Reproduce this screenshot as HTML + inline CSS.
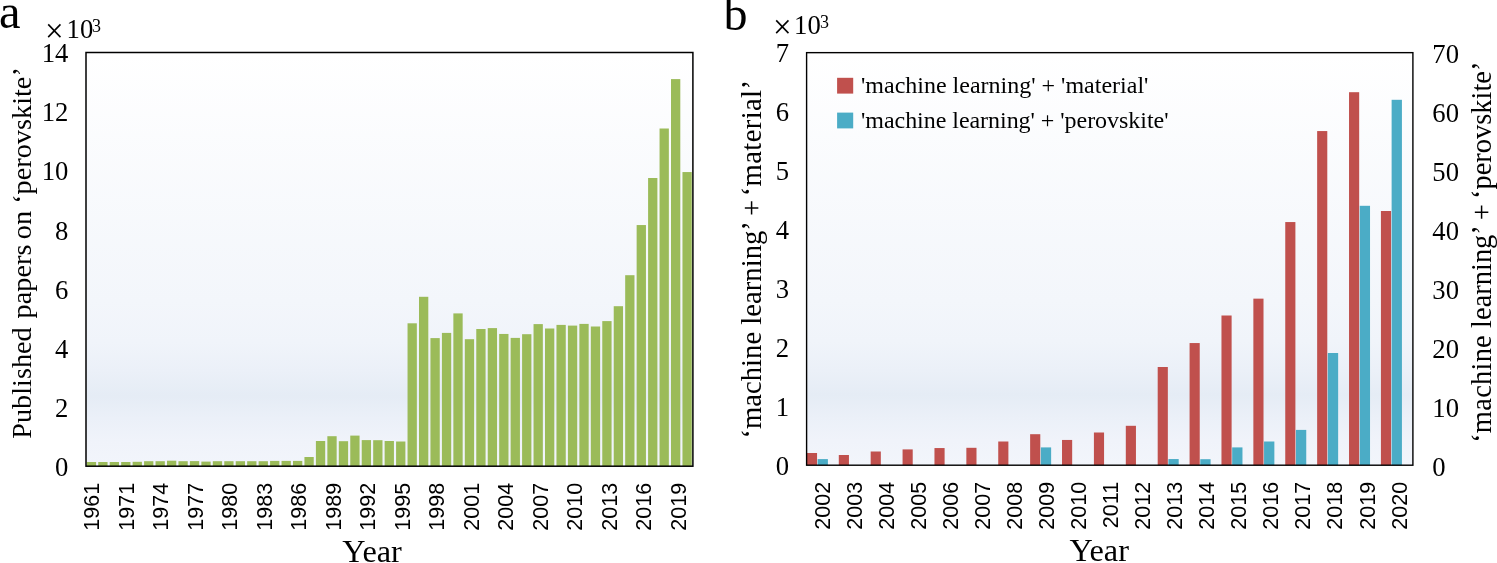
<!DOCTYPE html>
<html lang="en"><head><meta charset="utf-8"><title>Published papers per year</title>
<style>html,body{margin:0;padding:0;background:#fff}svg{display:block}.s{font-family:"Liberation Serif", "DejaVu Serif", serif;fill:#000}.n{font-family:"Liberation Sans", "DejaVu Sans", sans-serif;fill:#000}</style></head><body>
<svg width="1497" height="563" viewBox="0 0 1497 563">
<defs><linearGradient id="bg" x1="0" y1="0" x2="0" y2="1"><stop offset="0" stop-color="#FFFFFF"/><stop offset="0.6" stop-color="#F3F6FB"/><stop offset="0.7" stop-color="#F0F4FA"/><stop offset="0.77" stop-color="#EBF0F8"/><stop offset="0.83" stop-color="#E5ECF5"/><stop offset="0.885" stop-color="#EBF0F8"/><stop offset="0.94" stop-color="#F0F3FA"/><stop offset="1" stop-color="#F2F5FB"/></linearGradient></defs>
<rect x="0" y="0" width="1497" height="563" fill="#fff"/>
<rect x="86.0" y="52.5" width="606.90" height="413.70" fill="url(#bg)"/>
<g fill="#9BBB59">
<rect x="86.80" y="462.00" width="9.3" height="4.20"/>
<rect x="98.25" y="462.00" width="9.3" height="4.20"/>
<rect x="109.71" y="462.00" width="9.3" height="4.20"/>
<rect x="121.16" y="462.00" width="9.3" height="4.20"/>
<rect x="132.62" y="461.80" width="9.3" height="4.40"/>
<rect x="144.07" y="461.20" width="9.3" height="5.00"/>
<rect x="155.53" y="461.20" width="9.3" height="5.00"/>
<rect x="166.99" y="460.70" width="9.3" height="5.50"/>
<rect x="178.44" y="461.20" width="9.3" height="5.00"/>
<rect x="189.89" y="461.10" width="9.3" height="5.10"/>
<rect x="201.35" y="461.60" width="9.3" height="4.60"/>
<rect x="212.81" y="461.20" width="9.3" height="5.00"/>
<rect x="224.26" y="461.20" width="9.3" height="5.00"/>
<rect x="235.71" y="461.20" width="9.3" height="5.00"/>
<rect x="247.17" y="461.20" width="9.3" height="5.00"/>
<rect x="258.62" y="461.20" width="9.3" height="5.00"/>
<rect x="270.08" y="460.90" width="9.3" height="5.30"/>
<rect x="281.54" y="460.90" width="9.3" height="5.30"/>
<rect x="292.99" y="460.90" width="9.3" height="5.30"/>
<rect x="304.44" y="457.00" width="9.3" height="9.20"/>
<rect x="315.90" y="441.00" width="9.3" height="25.20"/>
<rect x="327.36" y="436.20" width="9.3" height="30.00"/>
<rect x="338.81" y="441.20" width="9.3" height="25.00"/>
<rect x="350.26" y="435.60" width="9.3" height="30.60"/>
<rect x="361.72" y="440.10" width="9.3" height="26.10"/>
<rect x="373.18" y="440.20" width="9.3" height="26.00"/>
<rect x="384.63" y="441.00" width="9.3" height="25.20"/>
<rect x="396.09" y="441.50" width="9.3" height="24.70"/>
<rect x="407.54" y="323.30" width="9.3" height="142.90"/>
<rect x="419.00" y="296.80" width="9.3" height="169.40"/>
<rect x="430.45" y="338.10" width="9.3" height="128.10"/>
<rect x="441.91" y="332.90" width="9.3" height="133.30"/>
<rect x="453.36" y="313.40" width="9.3" height="152.80"/>
<rect x="464.81" y="339.20" width="9.3" height="127.00"/>
<rect x="476.27" y="329.00" width="9.3" height="137.20"/>
<rect x="487.73" y="328.10" width="9.3" height="138.10"/>
<rect x="499.18" y="333.95" width="9.3" height="132.25"/>
<rect x="510.63" y="337.90" width="9.3" height="128.30"/>
<rect x="522.09" y="334.20" width="9.3" height="132.00"/>
<rect x="533.54" y="324.10" width="9.3" height="142.10"/>
<rect x="545.00" y="328.50" width="9.3" height="137.70"/>
<rect x="556.46" y="324.90" width="9.3" height="141.30"/>
<rect x="567.91" y="325.60" width="9.3" height="140.60"/>
<rect x="579.37" y="323.90" width="9.3" height="142.30"/>
<rect x="590.82" y="326.50" width="9.3" height="139.70"/>
<rect x="602.27" y="321.10" width="9.3" height="145.10"/>
<rect x="613.73" y="306.20" width="9.3" height="160.00"/>
<rect x="625.18" y="275.20" width="9.3" height="191.00"/>
<rect x="636.64" y="225.05" width="9.3" height="241.15"/>
<rect x="648.09" y="178.00" width="9.3" height="288.20"/>
<rect x="659.55" y="128.50" width="9.3" height="337.70"/>
<rect x="671.00" y="79.10" width="9.3" height="387.10"/>
<rect x="682.46" y="172.06" width="9.3" height="294.14"/>
</g>
<rect x="86.0" y="52.5" width="606.90" height="413.70" fill="none" stroke="#000" stroke-width="1.5"/>
<text class="s" x="68.3" y="476.30" font-size="26.67" text-anchor="end">0</text>
<text class="s" x="68.3" y="417.10" font-size="26.67" text-anchor="end">2</text>
<text class="s" x="68.3" y="357.90" font-size="26.67" text-anchor="end">4</text>
<text class="s" x="68.3" y="298.70" font-size="26.67" text-anchor="end">6</text>
<text class="s" x="68.3" y="239.50" font-size="26.67" text-anchor="end">8</text>
<text class="s" x="68.3" y="180.30" font-size="26.67" text-anchor="end">10</text>
<text class="s" x="68.3" y="121.10" font-size="26.67" text-anchor="end">12</text>
<text class="s" x="68.3" y="61.90" font-size="26.67" text-anchor="end">14</text>
<text class="s" x="45.1" y="41.5" font-size="33">×</text>
<text class="s" x="66.6" y="38.0" font-size="26.67">10</text>
<text class="s" x="92.0" y="31.6" font-size="18">3</text>
<text class="s" x="-1.0" y="27.5" font-size="48.5">a</text>
<text class="s" font-size="28.3" text-anchor="middle" transform="translate(31.2,253) rotate(-90)">Published <tspan dx="1.7">papers</tspan> <tspan dx="-1.7">on</tspan> ‘perovskite’</text>
<text class="s" x="372.1" y="562.0" font-size="32.3" text-anchor="middle">Year</text>
<text class="n" font-size="21.5" text-anchor="end" transform="translate(99.20,482.8) rotate(-90)">1961</text>
<text class="n" font-size="21.5" text-anchor="end" transform="translate(133.69,482.8) rotate(-90)">1971</text>
<text class="n" font-size="21.5" text-anchor="end" transform="translate(168.18,482.8) rotate(-90)">1974</text>
<text class="n" font-size="21.5" text-anchor="end" transform="translate(202.67,482.8) rotate(-90)">1977</text>
<text class="n" font-size="21.5" text-anchor="end" transform="translate(237.16,482.8) rotate(-90)">1980</text>
<text class="n" font-size="21.5" text-anchor="end" transform="translate(271.65,482.8) rotate(-90)">1983</text>
<text class="n" font-size="21.5" text-anchor="end" transform="translate(306.14,482.8) rotate(-90)">1986</text>
<text class="n" font-size="21.5" text-anchor="end" transform="translate(340.63,482.8) rotate(-90)">1989</text>
<text class="n" font-size="21.5" text-anchor="end" transform="translate(375.12,482.8) rotate(-90)">1992</text>
<text class="n" font-size="21.5" text-anchor="end" transform="translate(409.61,482.8) rotate(-90)">1995</text>
<text class="n" font-size="21.5" text-anchor="end" transform="translate(444.10,482.8) rotate(-90)">1998</text>
<text class="n" font-size="21.5" text-anchor="end" transform="translate(478.59,482.8) rotate(-90)">2001</text>
<text class="n" font-size="21.5" text-anchor="end" transform="translate(513.08,482.8) rotate(-90)">2004</text>
<text class="n" font-size="21.5" text-anchor="end" transform="translate(547.57,482.8) rotate(-90)">2007</text>
<text class="n" font-size="21.5" text-anchor="end" transform="translate(582.06,482.8) rotate(-90)">2010</text>
<text class="n" font-size="21.5" text-anchor="end" transform="translate(616.55,482.8) rotate(-90)">2013</text>
<text class="n" font-size="21.5" text-anchor="end" transform="translate(651.04,482.8) rotate(-90)">2016</text>
<text class="n" font-size="21.5" text-anchor="end" transform="translate(685.53,482.8) rotate(-90)">2019</text>
<rect x="806.6" y="52.65" width="606.30" height="412.55" fill="url(#bg)"/>
<g fill="#C0504D">
<rect x="806.90" y="453.00" width="10.15" height="12.20"/>
<rect x="838.79" y="455.00" width="10.15" height="10.20"/>
<rect x="870.68" y="451.50" width="10.15" height="13.70"/>
<rect x="902.57" y="449.40" width="10.15" height="15.80"/>
<rect x="934.46" y="448.05" width="10.15" height="17.15"/>
<rect x="966.35" y="447.80" width="10.15" height="17.40"/>
<rect x="998.24" y="441.50" width="10.15" height="23.70"/>
<rect x="1030.13" y="434.20" width="10.15" height="31.00"/>
<rect x="1062.02" y="439.95" width="10.15" height="25.25"/>
<rect x="1093.91" y="432.50" width="10.15" height="32.70"/>
<rect x="1125.80" y="425.80" width="10.15" height="39.40"/>
<rect x="1157.69" y="367.00" width="10.15" height="98.20"/>
<rect x="1189.58" y="343.05" width="10.15" height="122.15"/>
<rect x="1221.47" y="315.50" width="10.15" height="149.70"/>
<rect x="1253.36" y="298.65" width="10.15" height="166.55"/>
<rect x="1285.25" y="222.05" width="10.15" height="243.15"/>
<rect x="1317.14" y="131.06" width="10.15" height="334.14"/>
<rect x="1349.03" y="92.20" width="10.15" height="373.00"/>
<rect x="1380.92" y="211.00" width="10.15" height="254.20"/>
</g>
<g fill="#4BACC6">
<rect x="817.60" y="459.10" width="10.3" height="6.10"/>
<rect x="1040.83" y="447.40" width="10.3" height="17.80"/>
<rect x="1168.39" y="459.05" width="10.3" height="6.15"/>
<rect x="1200.28" y="459.20" width="10.3" height="6.00"/>
<rect x="1232.17" y="447.40" width="10.3" height="17.80"/>
<rect x="1264.06" y="441.50" width="10.3" height="23.70"/>
<rect x="1295.95" y="429.90" width="10.3" height="35.30"/>
<rect x="1327.84" y="353.00" width="10.3" height="112.20"/>
<rect x="1359.73" y="205.80" width="10.3" height="259.40"/>
<rect x="1391.62" y="99.80" width="10.3" height="365.40"/>
</g>
<rect x="806.6" y="52.65" width="606.30" height="412.55" fill="none" stroke="#000" stroke-width="1.4"/>
<text class="s" x="789" y="475.40" font-size="26.67" text-anchor="end">0</text>
<text class="s" x="789" y="416.40" font-size="26.67" text-anchor="end">1</text>
<text class="s" x="789" y="357.40" font-size="26.67" text-anchor="end">2</text>
<text class="s" x="789" y="298.40" font-size="26.67" text-anchor="end">3</text>
<text class="s" x="789" y="239.40" font-size="26.67" text-anchor="end">4</text>
<text class="s" x="789" y="180.40" font-size="26.67" text-anchor="end">5</text>
<text class="s" x="789" y="121.40" font-size="26.67" text-anchor="end">6</text>
<text class="s" x="789" y="62.40" font-size="26.67" text-anchor="end">7</text>
<text class="s" x="1432.3" y="475.60" font-size="26.67">0</text>
<text class="s" x="1432.3" y="416.60" font-size="26.67">10</text>
<text class="s" x="1432.3" y="357.60" font-size="26.67">20</text>
<text class="s" x="1432.3" y="298.60" font-size="26.67">30</text>
<text class="s" x="1432.3" y="239.60" font-size="26.67">40</text>
<text class="s" x="1432.3" y="180.60" font-size="26.67">50</text>
<text class="s" x="1432.3" y="121.60" font-size="26.67">60</text>
<text class="s" x="1432.3" y="62.60" font-size="26.67">70</text>
<text class="s" x="772.9" y="37.9" font-size="33">×</text>
<text class="s" x="794.1" y="34.4" font-size="26.67">10</text>
<text class="s" x="820.0" y="28.0" font-size="18">3</text>
<text class="s" x="723.5" y="29.6" font-size="48">b</text>
<text class="s" font-size="28.7" text-anchor="middle" transform="translate(760.8,259.1) rotate(-90)">‘machine learning’ + <tspan dx="-3.6" letter-spacing="0.36">‘material’</tspan></text>
<text class="s" font-size="28.46" text-anchor="middle" transform="translate(1490.7,252.2) rotate(-90)"><tspan letter-spacing="0.25">‘machine</tspan> learning’ + <tspan dx="-2">‘perovskite’</tspan></text>
<text class="s" x="1099.2" y="560.7" font-size="32.3" text-anchor="middle">Year</text>
<text class="n" font-size="21.5" text-anchor="end" transform="translate(830.00,481.9) rotate(-90)">2002</text>
<text class="n" font-size="21.5" text-anchor="end" transform="translate(862.03,481.9) rotate(-90)">2003</text>
<text class="n" font-size="21.5" text-anchor="end" transform="translate(894.06,481.9) rotate(-90)">2004</text>
<text class="n" font-size="21.5" text-anchor="end" transform="translate(926.09,481.9) rotate(-90)">2005</text>
<text class="n" font-size="21.5" text-anchor="end" transform="translate(958.12,481.9) rotate(-90)">2006</text>
<text class="n" font-size="21.5" text-anchor="end" transform="translate(990.15,481.9) rotate(-90)">2007</text>
<text class="n" font-size="21.5" text-anchor="end" transform="translate(1022.18,481.9) rotate(-90)">2008</text>
<text class="n" font-size="21.5" text-anchor="end" transform="translate(1054.21,481.9) rotate(-90)">2009</text>
<text class="n" font-size="21.5" text-anchor="end" transform="translate(1086.24,481.9) rotate(-90)">2010</text>
<text class="n" font-size="21.5" text-anchor="end" transform="translate(1118.27,481.9) rotate(-90)">2011</text>
<text class="n" font-size="21.5" text-anchor="end" transform="translate(1150.30,481.9) rotate(-90)">2012</text>
<text class="n" font-size="21.5" text-anchor="end" transform="translate(1182.33,481.9) rotate(-90)">2013</text>
<text class="n" font-size="21.5" text-anchor="end" transform="translate(1214.36,481.9) rotate(-90)">2014</text>
<text class="n" font-size="21.5" text-anchor="end" transform="translate(1246.39,481.9) rotate(-90)">2015</text>
<text class="n" font-size="21.5" text-anchor="end" transform="translate(1278.42,481.9) rotate(-90)">2016</text>
<text class="n" font-size="21.5" text-anchor="end" transform="translate(1310.45,481.9) rotate(-90)">2017</text>
<text class="n" font-size="21.5" text-anchor="end" transform="translate(1342.48,481.9) rotate(-90)">2018</text>
<text class="n" font-size="21.5" text-anchor="end" transform="translate(1374.51,481.9) rotate(-90)">2019</text>
<text class="n" font-size="21.5" text-anchor="end" transform="translate(1406.54,481.9) rotate(-90)">2020</text>
<rect x="837.1" y="77.8" width="16.1" height="15.8" fill="#C0504D"/>
<rect x="837.1" y="112.6" width="16.1" height="15.8" fill="#4BACC6"/>
<text class="s" x="861" y="93.4" font-size="24">'machine learning' + 'material'</text>
<text class="s" x="861" y="128.4" font-size="24" letter-spacing="-0.04">'machine learning' + 'perovskite'</text>
</svg></body></html>
